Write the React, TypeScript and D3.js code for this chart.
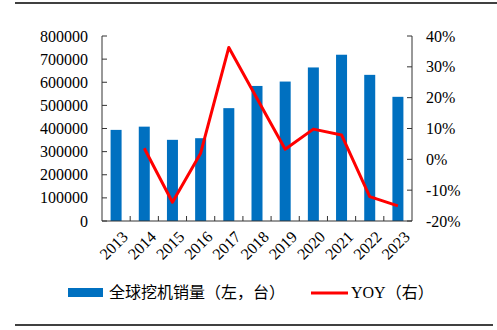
import React from "react";
import * as d3 from "d3";

const years = ["2013","2014","2015","2016","2017","2018","2019","2020","2021","2022","2023"];
const sales = [394000, 408000, 351000, 358000, 488000, 584000, 603000, 664000, 719000, 632000, 537000];
const yoy = [null, 3.6, -13.9, 2.0, 36.3, 19.7, 3.3, 9.8, 7.9, -12.1, -15.1];
const leftTicks = [0,100000,200000,300000,400000,500000,600000,700000,800000];
const rightTicks = [-20,-10,0,10,20,30,40];
const legendBar = "全球挖机销量（左，台）";
const legendLine = "（右）";

const W = 497, H = 330;
const L = 102, R = 412, T = 36, B = 221;
const serif = "'Liberation Serif','Times New Roman',serif";
const cjk = "'Noto Sans CJK SC',sans-serif";

export default function App() {
  const x = d3.scaleBand().domain(years).range([L, R]).paddingInner(0).paddingOuter(0);
  const yL = d3.scaleLinear().domain([0, 800000]).range([B, T]);
  const yR = d3.scaleLinear().domain([-20, 40]).range([B, T]);
  const barW = 11;
  const pts = years.map((y, i) => ({ y, v: yoy[i] })).filter(d => d.v !== null) as {y:string,v:number}[];
  const line = d3.line<{y:string,v:number}>().x(d => (x(d.y) as number) + x.bandwidth()/2).y(d => yR(d.v));
  const axisColor = "#333";
  return (
    <svg width={W} height={H} style={{position:"absolute", left:0, top:0, background:"#fff"}}>
      <line x1={15} x2={497} y1={3} y2={3} stroke="#000" strokeWidth={1.5}/>
      <line x1={15} x2={493} y1={325} y2={325} stroke="#000" strokeWidth={1.5}/>
      {years.map((yr, i) => (
        <rect key={yr} x={(x(yr) as number) + x.bandwidth()/2 - barW/2} y={yL(sales[i])} width={barW} height={B - yL(sales[i])} fill="#0070C0"/>
      ))}
      <path d={line(pts) as string} fill="none" stroke="#FF0000" strokeWidth={3} strokeLinejoin="round"/>
      <line x1={L} x2={L} y1={T} y2={B} stroke={axisColor} strokeWidth={1}/>
      {leftTicks.map(t => (
        <g key={t}>
          <line x1={L} x2={L+5} y1={yL(t)} y2={yL(t)} stroke={axisColor}/>
          <text x={L-14} y={yL(t)} dy="0.35em" textAnchor="end" fontFamily={serif} fontSize={16} fill="#000">{t}</text>
        </g>
      ))}
      <line x1={R} x2={R} y1={T} y2={B} stroke={axisColor} strokeWidth={1}/>
      {rightTicks.map(t => (
        <g key={t}>
          <line x1={R-5} x2={R} y1={yR(t)} y2={yR(t)} stroke={axisColor}/>
          <text x={R+14} y={yR(t)} dy="0.35em" textAnchor="start" fontFamily={serif} fontSize={16} fill="#000">{t + "%"}</text>
        </g>
      ))}
      <line x1={L} x2={R} y1={B} y2={B} stroke={axisColor}/>
      {years.map((yr, i) => i > 0 ? (
        <line key={"t"+yr} x1={x(yr) as number} x2={x(yr) as number} y1={B} y2={B-5} stroke={axisColor}/>
      ) : null)}
      {years.map(yr => {
        const cx = (x(yr) as number) + x.bandwidth()/2 + 5;
        const cy = 230;
        return (
          <text key={"l"+yr} x={cx} y={cy} dy="0.7em" textAnchor="end" transform={`rotate(-45,${cx},${cy})`} fontFamily={serif} fontSize={16} fill="#000">{yr}</text>
        );
      })}
      <rect x={68} y={288} width={35} height={9} fill="#0070C0"/>
      <text x={109} y={298} fontFamily={cjk} fontSize={16} fill="#000">{legendBar}</text>
      <line x1={311} x2={348} y1={293} y2={293} stroke="#FF0000" strokeWidth={3}/>
      <text x={351} y={298} fontFamily={serif} fontSize={16} fill="#000">YOY<tspan fontFamily={cjk} fontSize={16}>{legendLine}</tspan></text>
    </svg>
  );
}
